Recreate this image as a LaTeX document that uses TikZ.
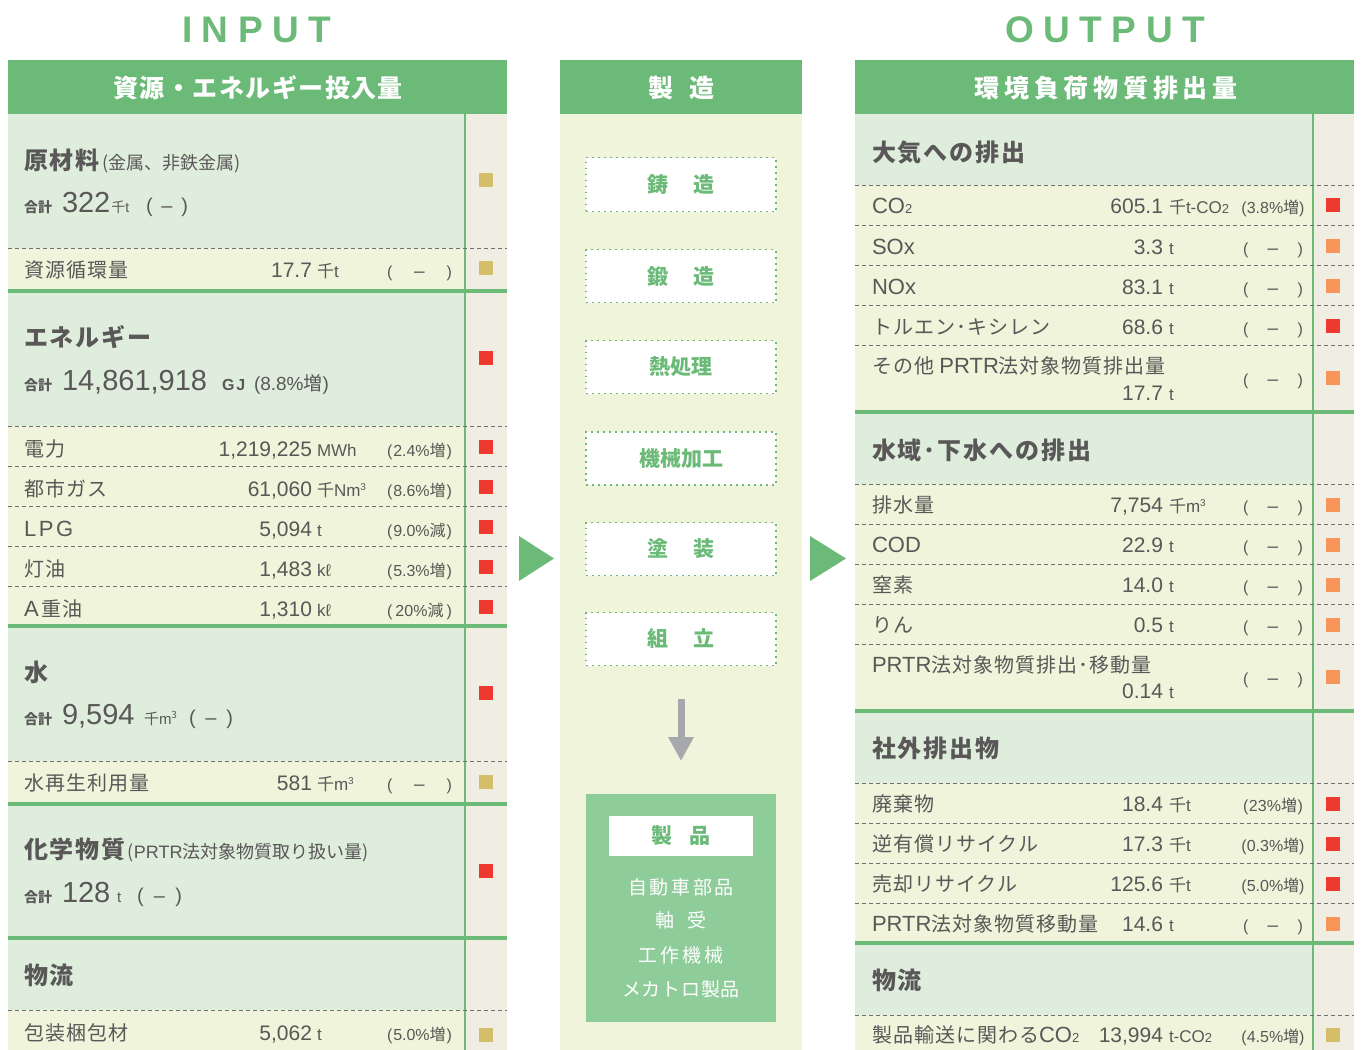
\documentclass[tikz,border=0pt]{standalone}
\usepackage{fontspec}
\setmainfont{Noto Sans CJK JP}
\newfontfamily\jp{Noto Sans CJK JP}
\newfontfamily\lat{Liberation Sans}
\usetikzlibrary{arrows.meta}
\definecolor{hdrgreen}{HTML}{6BBA78}
\definecolor{secbg}{HTML}{DFEEDC}
\definecolor{itembg}{HTML}{F0F4DA}
\definecolor{indbg}{HTML}{F0EEE2}
\definecolor{txt}{HTML}{595757}
\definecolor{sqred}{HTML}{EE3A2E}
\definecolor{sqorange}{HTML}{F7955A}
\definecolor{sqkhaki}{HTML}{D4BE6A}
\definecolor{prodgreen}{HTML}{8ECC9A}
\definecolor{arrowgrey}{HTML}{A7A8AB}
\definecolor{dashgrey}{HTML}{707070}
\newcommand\myfs[1]{\fontsize{#1}{#1}\selectfont}
\newcommand\lsp[1]{\addfontfeatures{LetterSpace=#1}}
\newcommand\la[1]{{\lat\myfs{22}#1}}
\newcommand\sen{{\jp\myfs{17}千}}
\newcommand\cub{\raisebox{6pt}{\myfs{10}3}}
\newcommand\tsub{{\lat\myfs{13}2}}
\newcommand\Ldash{\makebox[65pt]{(\hfill{\myfs{19}–}\hfill)}}
\newcommand\Rdash{\makebox[60pt]{(\hfill{\myfs{19}–}\hfill)}}
\newcommand\Lpct[2]{\makebox[65pt]{(\hfill#1\%{\jp#2}\hfill)}}
\newcommand\Rpct[2]{\makebox[60pt]{(\hfill#1\%{\jp#2}\hfill)}}
\tikzset{
  every node/.style={inner sep=0pt, outer sep=0pt, text=txt},
  lbl/.style={anchor=base west, font=\myfs{20}\lsp{5}},
  sect/.style={anchor=base west, font=\myfs{24}\bfseries\lsp{8}},
  num/.style={anchor=base east, font=\lat\myfs{21}},
  unit/.style={anchor=base west, font=\lat\myfs{17}},
  par/.style={anchor=base east, font=\lat\myfs{16}},
  hdr/.style={text=white, font=\myfs{25}\bfseries},
  tot/.style={anchor=base west, font=\myfs{14}\bfseries},
  big/.style={anchor=base west, font=\lat\myfs{29}},
  dline/.style={draw=dashgrey, line width=1pt, dash pattern=on 4pt off 3pt},
  gline/.style={draw=hdrgreen, line width=3.5pt},
  pbox/.style={draw=hdrgreen, fill=white, line width=1.6pt, dash pattern=on 1.6pt off 4.4pt,
    minimum width=190pt, minimum height=53pt, text=hdrgreen, font=\myfs{21}\bfseries},
  plist/.style={text=white, font=\myfs{19}},
  title/.style={anchor=base west, text=hdrgreen, font=\lat\bfseries\myfs{37}\lsp{26}},
}
\newcommand\Lrow[8]{%
  \node[lbl] (#1-l) at (24,#2) {#3};
  \node[num] (#1-n) at (312,#2) {#4};
  \node[unit] (#1-u) at ([xshift=5pt]#1-n.base east) {#5};
  \node[par] (#1-p) at (452,#2) {#6};
  \fill[#7] (479,{#8-7}) rectangle ++(14,14);
}
\newcommand\Rrow[8]{%
  \node[lbl] (#1-l) at (872,#2) {#3};
  \node[num] (#1-n) at (1163,#2) {#4};
  \node[unit] (#1-u) at ([xshift=6pt]#1-n.base east) {#5};
  \node[par] (#1-p) at (1303,#2) {#6};
  \fill[#7] (1326,{#8-7}) rectangle ++(14,14);
}
\begin{document}
\begin{tikzpicture}[x=1pt,y=-1pt]
\useasboundingbox (0,0) rectangle (1369,1050);
\fill[white] (0,0) rectangle (1369,1050);

% ---------- titles ----------
\node[title] (inp) at (182,42) {INPUT};
\node[title] (outp) at (1005,42) {OUTPUT};

% ---------- left panel ----------
\fill[secbg] (8,114) rectangle (465,1050);
\fill[itembg] (8,248) rectangle (465,291);
\fill[itembg] (8,426) rectangle (465,626);
\fill[itembg] (8,761) rectangle (465,804);
\fill[itembg] (8,1010) rectangle (465,1050);
\fill[indbg] (465,114) rectangle (507,1050);
\draw[hdrgreen, line width=1.2pt] (465,114) -- (465,1050);
\foreach \yy in {248,426,466,506,546,586,761,1010} \draw[dline] (8,\yy) -- (507,\yy);
\foreach \yy in {291,626,804,938} \draw[gline] (8,\yy) -- (507,\yy);
\fill[hdrgreen] (8,60) rectangle (507,114);
\node[hdr] (lhdr) at (258,88) {\lsp{6}資源・エネルギー投入量};

% 原材料
\node[sect] (S1) at (24,169) {原材料};
\node[anchor=base west, font=\myfs{18}] (S1b) at ([xshift=3pt]S1.base east) {(金属、非鉄金属)};
\node[tot] (T1a) at (24,212) {合計};
\node[big] (T1b) at (62,212) {322};
\node[anchor=base west, font=\myfs{14}] (T1c) at ([xshift=1pt]T1b.base east) {千{\lat t}};
\node[anchor=base west, font=\lat\myfs{20}] (T1d) at (146,212) {\makebox[42pt]{(\hfill–\hfill)}};
\fill[sqkhaki] (479,173) rectangle ++(14,14);
\Lrow{L1}{277}{資源循環量}{17.7}{\sen t}{\Ldash}{sqkhaki}{268}

% エネルギー
\node[sect] (S2) at (24,346) {エネルギー};
\node[tot] (T2a) at (24,390) {合計};
\node[big] (T2b) at (62,390) {14,861,918};
\node[anchor=base west, font=\lat\myfs{16}\bfseries\lsp{12}] (T2c) at (222,390) {GJ};
\node[anchor=base west, font=\lat\myfs{19}] (T2d) at (254,390) {(8.8\%{\jp 増})};
\fill[sqred] (479,351) rectangle ++(14,14);
\Lrow{L2}{456}{電力}{1,219,225}{MWh}{\Lpct{2.4}{増}}{sqred}{447}
\Lrow{L3}{496}{都市ガス}{61,060}{\sen Nm\cub}{\Lpct{8.6}{増}}{sqred}{487}
\Lrow{L4}{536}{{\lat\myfs{22}\lsp{12}LPG}}{5,094}{t}{\Lpct{9.0}{減}}{sqred}{527}
\Lrow{L5}{576}{灯油}{1,483}{kℓ}{\Lpct{5.3}{増}}{sqred}{567}
\Lrow{L6}{616}{\la{A}\hspace{3pt}重油}{1,310}{kℓ}{\Lpct{20}{減}}{sqred}{607}

% 水
\node[sect] (S3) at (24,681) {水};
\node[tot] (T3a) at (24,724) {合計};
\node[big] (T3b) at (62,724) {9,594};
\node[anchor=base west, font=\myfs{15}] (T3c) at (144,724) {千{\lat m}\cub};
\node[anchor=base west, font=\lat\myfs{20}] (T3d) at (189,724) {\makebox[44pt]{(\hfill–\hfill)}};
\fill[sqred] (479,686) rectangle ++(14,14);
\Lrow{L7}{790}{水再生利用量}{581}{\sen m\cub}{\Ldash}{sqkhaki}{782}

% 化学物質
\node[sect] (S4) at (24,858) {化学物質};
\node[anchor=base west, font=\myfs{18}] (S4b) at ([xshift=2pt]S4.base east) {({\lat PRTR}法対象物質取り扱い量)};
\node[tot] (T4a) at (24,902) {合計};
\node[big] (T4b) at (62,902) {128};
\node[anchor=base west, font=\lat\myfs{15}] (T4c) at (117,902) {t};
\node[anchor=base west, font=\lat\myfs{20}] (T4d) at (137,902) {\makebox[45pt]{(\hfill–\hfill)}};
\fill[sqred] (479,864) rectangle ++(14,14);

% 物流
\node[sect] (S5) at (24,984) {物流};
\Lrow{L8}{1040}{包装梱包材}{5,062}{t}{\Lpct{5.0}{増}}{sqkhaki}{1035}

% ---------- middle panel ----------
\fill[itembg] (560,114) rectangle (802,1050);
\fill[hdrgreen] (560,60) rectangle (802,114);
\node[hdr] (mhdr) at (681,88) {製\hspace{16pt}造};
\node[pbox, minimum height=54pt] (p1) at (681,184.5) {鋳\hspace{25pt}造};
\node[pbox] (p2) at (681,276) {鍛\hspace{25pt}造};
\node[pbox] (p3) at (681,367) {熱処理};
\node[pbox] (p4) at (681,458.5) {機械加工};
\node[pbox] (p5) at (681,549) {塗\hspace{25pt}装};
\node[pbox] (p6) at (681,639) {組\hspace{25pt}立};
\node[fill=prodgreen, minimum width=190pt, minimum height=228pt] (prod) at (681,908) {};
\draw[arrowgrey, line width=7pt, -{Triangle[width=24pt,length=24pt]}, shorten <=33pt, shorten >=33pt] (p6.south) -- (prod.north);
\node[fill=white, minimum width=144pt, minimum height=40pt, text=hdrgreen, font=\myfs{21}\bfseries] (prodh) at (681,836) {製\hspace{17pt}品};
\node[plist] (pl1) at (681,887) {\lsp{14}自動車部品};
\node[plist] (pl2) at (681,920) {軸\hspace{14pt}受};
\node[plist] (pl3) at (681,955) {\lsp{16}工作機械};
\node[plist] (pl4) at (681,989) {\lsp{4}メカトロ製品};

% triangles
\fill[hdrgreen] (519,536) -- (519,581) -- (554,558.5) -- cycle;
\fill[hdrgreen] (810,536) -- (810,581) -- (846,558.5) -- cycle;

% ---------- right panel ----------
\fill[secbg] (855,114) rectangle (1313,1050);
\fill[itembg] (855,185) rectangle (1313,412);
\fill[itembg] (855,484) rectangle (1313,711);
\fill[itembg] (855,783) rectangle (1313,943);
\fill[itembg] (855,1015) rectangle (1313,1050);
\fill[indbg] (1313,114) rectangle (1354,1050);
\draw[hdrgreen, line width=1.2pt] (1313,114) -- (1313,1050);
\foreach \yy in {185,225,265,305,345,484,524,564,604,644,783,823,863,903,1015} \draw[dline] (855,\yy) -- (1354,\yy);
\foreach \yy in {412,711,943} \draw[gline] (855,\yy) -- (1354,\yy);
\fill[hdrgreen] (855,60) rectangle (1354,114);
\node[hdr] (rhdr) at (1106,88) {\lsp{19}環境負荷物質排出量};

\node[sect] (Q1) at (872,161) {大気への排出};
\Rrow{R1}{213}{\la{CO}\tsub}{605.1}{\sen t-CO\tsub}{\Rpct{3.8}{増}}{sqred}{205}
\Rrow{R2}{254}{\la{SOx}}{3.3}{t}{\Rdash}{sqorange}{246}
\Rrow{R3}{294}{\la{NOx}}{83.1}{t}{\Rdash}{sqorange}{286}
\Rrow{R4}{334}{トルエン･キシレン}{68.6}{t}{\Rdash}{sqred}{326}
\node[lbl] (R5-l) at (872,373) {その他 \la{PRTR}法対象物質排出量};
\node[num] (R5-n) at (1163,400) {17.7};
\node[unit] (R5-u) at ([xshift=6pt]R5-n.base east) {t};
\node[par] (R5-p) at (1303,385) {\Rdash};
\fill[sqorange] (1326,371) rectangle ++(14,14);

\node[sect] (Q2) at (872,459) {水域･下水への排出};
\Rrow{R6}{512}{排水量}{7,754}{\sen m\cub}{\Rdash}{sqorange}{505}
\Rrow{R7}{552}{\la{COD}}{22.9}{t}{\Rdash}{sqorange}{545}
\Rrow{R8}{592}{窒素}{14.0}{t}{\Rdash}{sqorange}{585}
\Rrow{R9}{632}{りん}{0.5}{t}{\Rdash}{sqorange}{625}
\node[lbl] (R10-l) at (872,672) {\la{PRTR}法対象物質排出･移動量};
\node[num] (R10-n) at (1163,698) {0.14};
\node[unit] (R10-u) at ([xshift=6pt]R10-n.base east) {t};
\node[par] (R10-p) at (1303,684) {\Rdash};
\fill[sqorange] (1326,670) rectangle ++(14,14);

\node[sect] (Q3) at (872,757) {社外排出物};
\Rrow{R11}{811}{廃棄物}{18.4}{\sen t}{\Rpct{23}{増}}{sqred}{804}
\Rrow{R12}{851}{逆有償リサイクル}{17.3}{\sen t}{\Rpct{0.3}{増}}{sqred}{844}
\Rrow{R13}{891}{売却リサイクル}{125.6}{\sen t}{\Rpct{5.0}{増}}{sqred}{884}
\Rrow{R14}{931}{\la{PRTR}法対象物質移動量}{14.6}{t}{\Rdash}{sqorange}{924}

\node[sect] (Q4) at (872,989) {物流};
\Rrow{R15}{1042}{製品輸送に関わる\la{CO}\tsub}{13,994}{t-CO\tsub}{\Rpct{4.5}{増}}{sqkhaki}{1035}
\end{tikzpicture}
\end{document}
